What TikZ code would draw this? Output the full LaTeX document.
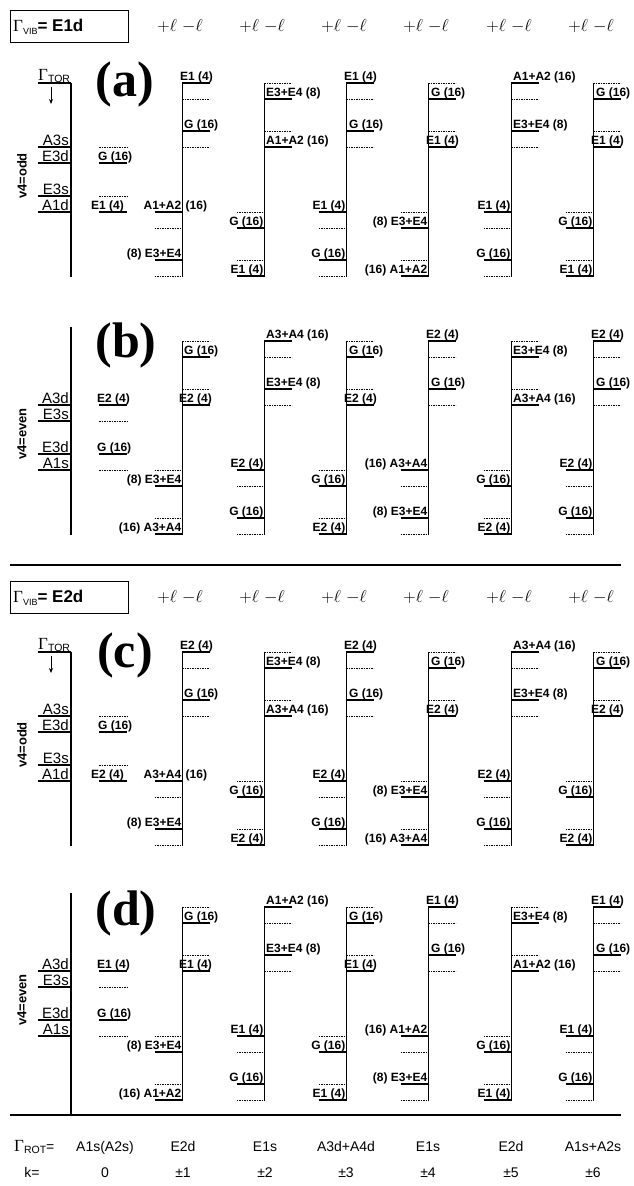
\documentclass[tikz,border=0pt]{standalone}
\usepackage{fontspec}
\setmainfont{Liberation Sans}
\newfontfamily\seriffont{Liberation Serif}
\usetikzlibrary{arrows.meta}

\tikzset{
  lvl/.style={line width=1.9pt},
  dlvl/.style={line width=0.8pt, dash pattern=on 1.6pt off 0.9pt},
  colline/.style={line width=0.8pt},
  axisline/.style={line width=2.4pt},
  axtick/.style={line width=1.5pt},
  rulebar/.style={line width=2.4pt},
  lab/.style={font=\fontsize{12}{12}\selectfont\bfseries, inner sep=0pt},
  axlab/.style={font=\fontsize{15}{15}\selectfont, inner sep=0pt},
  sidelab/.style={font=\fontsize{13}{13}\selectfont\bfseries, inner sep=0pt, rotate=90},
  panellab/.style={font=\seriffont\bfseries\fontsize{50}{50}\selectfont, inner sep=0pt},
  elllab/.style={font=\fontsize{19}{19}\selectfont, inner sep=0pt},
  rowlab/.style={font=\fontsize{14}{14}\selectfont, inner sep=0pt, anchor=base},
  vibbox/.style={draw, line width=1.2pt, minimum width=118pt, minimum height=32pt,
    anchor=north west, inner sep=0pt},
  arr/.style={line width=0.9pt, -{Stealth[length=5pt,width=4pt]}}
}

% Gamma with a sans subscript
\newcommand\gsub[1]{{\seriffont\fontsize{17}{17}\selectfont Γ}\raisebox{-2.5pt}{\fontsize{10.5}{10.5}\selectfont #1}}
\newcommand\vibtext[1]{{\seriffont\fontsize{17}{17}\selectfont Γ}\raisebox{-2.5pt}{\fontsize{9}{9}\selectfont VIB}{\fontsize{17}{17}\selectfont\bfseries= #1}}

% one level pair: solid + dashed line, label sits on the solid line
% #1 name, #2 x-left, #3 x-right, #4 y of upper line, #5 1 = solid on top,
% #6 label x, #7 label side (west/east), #8 text
\newcommand\levPair[8]{%
  \pgfmathsetmacro\lvYs{#5==1 ? #4 : #4+16}%
  \pgfmathsetmacro\lvYd{#5==1 ? #4+16 : #4}%
  \draw[lvl] (#2,\lvYs) -- (#3,\lvYs);
  \draw[dlvl] (#2,\lvYd) -- (#3,\lvYd);
  \node[lab, anchor=base #7] (#1) at (#6,\lvYs-2.5) {#8};
}
% level to the right of a column line: name, v, y, parity, label dx, text
\newcommand\levUp[6]{%
  \pgfmathsetmacro\lvX{#2+(#5)}%
  \levPair{#1}{#2}{#2+27.5}{#3}{#4}{\lvX}{west}{#6}}
% level to the left of a column line: name, v, y, parity, text
\newcommand\levDn[5]{%
  \levPair{#1}{#2-27.5}{#2}{#3}{#4}{#2-0.5}{east}{#5}}

\newcommand\colLines{%
  \foreach \vx in {182,264,346,428,511,593}
    \draw[colline] (\vx,\PanTop) -- (\vx,\PanTop+194);
}

% torsional axis, v4 odd
\newcommand\oddAxis[2]{%
  \def\PanTop{#2}%
  \draw[axisline] (71,\PanTop) -- (71,\PanTop+194);
  \draw[axtick] (38,\PanTop) -- (71,\PanTop);
  \node[anchor=base west, inner sep=0pt] (#1tor) at (38,\PanTop-3) {\gsub{TOR}};
  \coordinate (#1arrS) at (51,\PanTop+4);
  \coordinate (#1arrE) at (51,\PanTop+21);
  \draw[arr] (#1arrS) -- (#1arrE);
  \foreach \yy in {64,80,113,129} \draw[axtick] (38,\PanTop+\yy) -- (71,\PanTop+\yy);
  \node[axlab, anchor=base east] (#1s1) at (69,\PanTop+62) {A3s};
  \node[axlab, anchor=base east] (#1s2) at (69,\PanTop+78) {E3d};
  \node[axlab, anchor=base east] (#1s3) at (69,\PanTop+111) {E3s};
  \node[axlab, anchor=base east] (#1s4) at (69,\PanTop+127) {A1d};
  \node[sidelab] (#1v4) at (22,\PanTop+93) {v4=odd};
}
% torsional axis, v4 even
\newcommand\evenAxis[3]{%
  \def\PanTop{#2}%
  \draw[axisline] (71,\PanTop-14) -- (71,#3);
  \foreach \yy in {64,80,113,129} \draw[axtick] (38,\PanTop+\yy) -- (71,\PanTop+\yy);
  \node[axlab, anchor=base east] (#1s1) at (69,\PanTop+62) {A3d};
  \node[axlab, anchor=base east] (#1s2) at (69,\PanTop+78) {E3s};
  \node[axlab, anchor=base east] (#1s3) at (69,\PanTop+111) {E3d};
  \node[axlab, anchor=base east] (#1s4) at (69,\PanTop+127) {A1s};
  \node[sidelab] (#1v4) at (22,\PanTop+93) {v4=even};
}

% level ladders, v4 odd: #1 prefix, #2 top, #3 E species, #4 A species
\newcommand\oddPanel[4]{%
  \def\PanTop{#2}%
  \colLines
  \levPair{#1k0a}{99}{127}{\PanTop+64}{0}{98}{west}{G (16)}
  \levPair{#1k0b}{99}{127}{\PanTop+113}{0}{91}{west}{#3 (4)}
  \levUp{#1k1a}{182}{\PanTop}{1}{-2}{#3 (4)}
  \levUp{#1k1b}{182}{\PanTop+48}{1}{2}{G (16)}
  \levDn{#1k1c}{182}{\PanTop+129}{1}{#4}
  \node[lab, anchor=base west] (#1k1cd) at ([xshift=4pt]#1k1c.base east) {(16)};
  \levDn{#1k1d}{182}{\PanTop+177}{1}{(8) E3+E4}
  \levUp{#1k2a}{264}{\PanTop}{0}{2}{E3+E4 (8)}
  \levUp{#1k2b}{264}{\PanTop+48}{0}{2}{#4 (16)}
  \levDn{#1k2c}{264}{\PanTop+129}{0}{G (16)}
  \levDn{#1k2d}{264}{\PanTop+177}{0}{#3 (4)}
  \levUp{#1k3a}{346}{\PanTop}{1}{-2}{#3 (4)}
  \levUp{#1k3b}{346}{\PanTop+48}{1}{3}{G (16)}
  \levDn{#1k3c}{346}{\PanTop+129}{1}{#3 (4)}
  \levDn{#1k3d}{346}{\PanTop+177}{1}{G (16)}
  \levUp{#1k4a}{428}{\PanTop}{0}{3}{G (16)}
  \levUp{#1k4b}{428}{\PanTop+48}{0}{-2}{#3 (4)}
  \levDn{#1k4c}{428}{\PanTop+129}{0}{(8) E3+E4}
  \levDn{#1k4d}{428}{\PanTop+177}{0}{(16) #4}
  \levUp{#1k5a}{511}{\PanTop}{1}{2}{#4 (16)}
  \levUp{#1k5b}{511}{\PanTop+48}{1}{2}{E3+E4 (8)}
  \levDn{#1k5c}{511}{\PanTop+129}{1}{#3 (4)}
  \levDn{#1k5d}{511}{\PanTop+177}{1}{G (16)}
  \levUp{#1k6a}{593}{\PanTop}{0}{3}{G (16)}
  \levUp{#1k6b}{593}{\PanTop+48}{0}{-2}{#3 (4)}
  \levDn{#1k6c}{593}{\PanTop+129}{0}{G (16)}
  \levDn{#1k6d}{593}{\PanTop+177}{0}{#3 (4)}
}

% level ladders, v4 even
\newcommand\evenPanel[4]{%
  \def\PanTop{#2}%
  \colLines
  \levPair{#1k0a}{99}{127}{\PanTop+64}{1}{97}{west}{#3 (4)}
  \levPair{#1k0b}{99}{127}{\PanTop+113}{1}{97}{west}{G (16)}
  \levUp{#1k1a}{182}{\PanTop}{0}{2}{G (16)}
  \levUp{#1k1b}{182}{\PanTop+48}{0}{-3}{#3 (4)}
  \levDn{#1k1c}{182}{\PanTop+129}{0}{(8) E3+E4}
  \levDn{#1k1d}{182}{\PanTop+177}{0}{(16) #4}
  \levUp{#1k2a}{264}{\PanTop}{1}{2}{#4 (16)}
  \levUp{#1k2b}{264}{\PanTop+48}{1}{2}{E3+E4 (8)}
  \levDn{#1k2c}{264}{\PanTop+129}{1}{#3 (4)}
  \levDn{#1k2d}{264}{\PanTop+177}{1}{G (16)}
  \levUp{#1k3a}{346}{\PanTop}{0}{3}{G (16)}
  \levUp{#1k3b}{346}{\PanTop+48}{0}{-2}{#3 (4)}
  \levDn{#1k3c}{346}{\PanTop+129}{0}{G (16)}
  \levDn{#1k3d}{346}{\PanTop+177}{0}{#3 (4)}
  \levUp{#1k4a}{428}{\PanTop}{1}{-2}{#3 (4)}
  \levUp{#1k4b}{428}{\PanTop+48}{1}{3}{G (16)}
  \levDn{#1k4c}{428}{\PanTop+129}{1}{(16) #4}
  \levDn{#1k4d}{428}{\PanTop+177}{1}{(8) E3+E4}
  \levUp{#1k5a}{511}{\PanTop}{0}{2}{E3+E4 (8)}
  \levUp{#1k5b}{511}{\PanTop+48}{0}{2}{#4 (16)}
  \levDn{#1k5c}{511}{\PanTop+129}{0}{G (16)}
  \levDn{#1k5d}{511}{\PanTop+177}{0}{#3 (4)}
  \levUp{#1k6a}{593}{\PanTop}{1}{-2}{#3 (4)}
  \levUp{#1k6b}{593}{\PanTop+48}{1}{3}{G (16)}
  \levDn{#1k6c}{593}{\PanTop+129}{1}{#3 (4)}
  \levDn{#1k6d}{593}{\PanTop+177}{1}{G (16)}
}

% header row: box with vibrational symmetry and the +l -l pairs
\newcommand\headRow[3]{%
  \node[vibbox] (#1box) at (10,#2-16) {};
  \node[anchor=west, inner sep=0pt] (#1boxt) at ([xshift=3pt]#1box.west) {\vibtext{#3}};
  \foreach \vx [count=\i] in {182,264,346,428,511,593}
    \node[elllab] (#1ell\i) at (\vx-2,#2) {$+\ell$ $-\ell$};
}

\begin{document}
\begin{tikzpicture}[x=1pt,y=-1pt]
\useasboundingbox (0,0) rectangle (634,1186);

% ---- Gamma_VIB = E1d ----
\headRow{ha}{26}{E1d}
\oddAxis{pa}{83}
\oddPanel{pa}{83}{E1}{A1+A2}
\node[panellab] (la) at (125,84) {(a)};

\evenAxis{pb}{341}{535}
\evenPanel{pb}{341}{E2}{A3+A4}
\node[panellab] (lb) at (126,345) {(b)};

\draw[rulebar] (10,565) -- (621,565);

% ---- Gamma_VIB = E2d ----
\headRow{hc}{597}{E2d}
\oddAxis{pc}{652}
\oddPanel{pc}{652}{E2}{A3+A4}
\node[panellab] (lc) at (125,655) {(c)};

\evenAxis{pd}{907}{1115}
\evenPanel{pd}{907}{E1}{A1+A2}
\node[panellab] (ld) at (126,913) {(d)};

\draw[rulebar] (10,1115) -- (621,1115);

% ---- rotational symmetry and k ----
\node[anchor=base west, inner sep=0pt] (rot) at (14,1151) {\gsub{ROT}{\fontsize{14}{14}\selectfont=}};
\node[rowlab] (r0) at (105,1151) {A1s(A2s)};
\node[rowlab] (r1) at (183,1151) {E2d};
\node[rowlab] (r2) at (265,1151) {E1s};
\node[rowlab] (r3) at (346,1151) {A3d+A4d};
\node[rowlab] (r4) at (428,1151) {E1s};
\node[rowlab] (r5) at (511,1151) {E2d};
\node[rowlab] (r6) at (593,1151) {A1s+A2s};

\node[rowlab] (kk) at (32,1177) {k=};
\node[rowlab] (k0) at (105,1177) {0};
\node[rowlab] (k1) at (183,1177) {±1};
\node[rowlab] (k2) at (265,1177) {±2};
\node[rowlab] (k3) at (346,1177) {±3};
\node[rowlab] (k4) at (428,1177) {±4};
\node[rowlab] (k5) at (511,1177) {±5};
\node[rowlab] (k6) at (593,1177) {±6};
\end{tikzpicture}
\end{document}
